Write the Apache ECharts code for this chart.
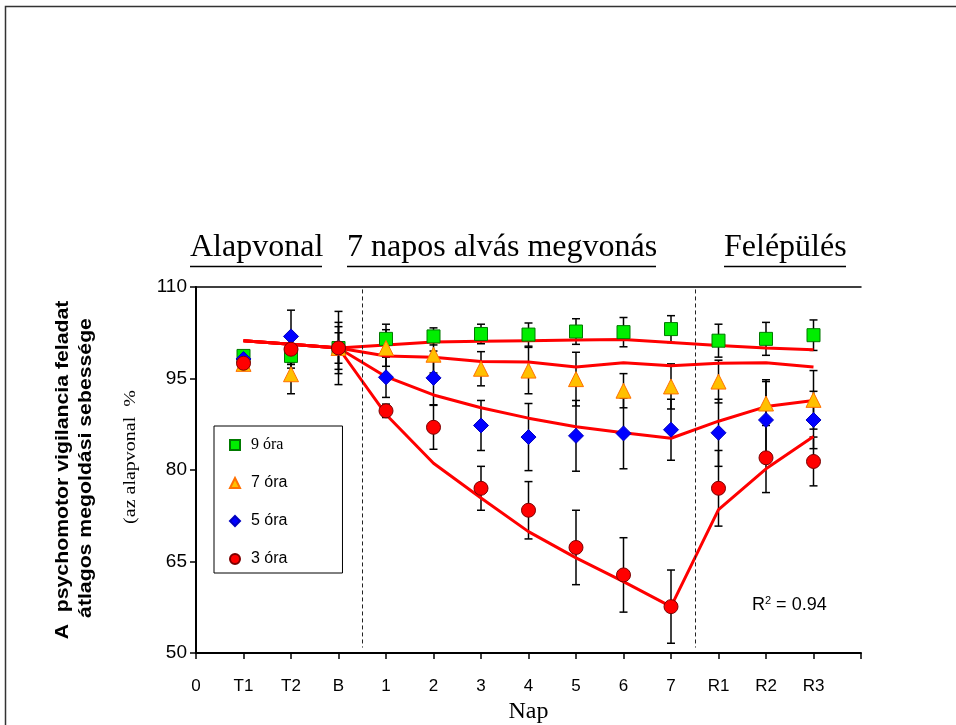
<!DOCTYPE html>
<html>
<head>
<meta charset="utf-8">
<script src="https://cdn.jsdelivr.net/npm/echarts@6/dist/echarts.min.js"></script>
<style>
  html, body { margin: 0; padding: 0; background: #fff; }
  #chart { width: 956px; height: 725px; }
</style>
</head>
<body>
<div id="chart"></div>
<script>
// Axis tick labels (position index = x value)
const tickLabels = ['0', 'T1', 'T2', 'B', '1', '2', '3', '4', '5', '6', '7', 'R1', 'R2', 'R3'];
const days = tickLabels.slice(1);

// Group means (% of baseline)
const hours9 = [98.7, 98.7, 100, 101.5, 101.9, 102.3, 102.2, 102.7, 102.6, 103.1, 101.2, 101.5, 102.1];
const hours7 = [97.4, 95.7, 100, 100.0, 98.9, 96.6, 96.3, 94.9, 93.0, 93.7, 94.5, 90.9, 91.5];
const hours5 = [98.2, 101.9, 100, 95.2, 95.1, 87.3, 85.4, 85.6, 86.0, 86.6, 86.1, 88.2, 88.2];
const hours3 = [97.5, 99.8, 100, 89.7, 87.0, 77.0, 73.4, 67.3, 62.8, 57.6, 77.0, 82.0, 81.4];

// Error bar half-widths
const err9 = [0.8, 2.0, 3.5, 2.4, 1.4, 1.6, 1.9, 2.1, 2.4, 2.2, 2.7, 2.7, 2.5];
const err7 = [0.8, 3.2, 4.2, 3.0, 3.0, 2.8, 3.8, 4.4, 2.8, 3.7, 3.5, 3.6, 4.8];
const err5 = [0.8, 4.3, 6.0, 3.3, 4.4, 4.1, 5.5, 5.8, 5.8, 5.0, 5.5, 6.6, 4.7];
const err3 = [0.8, 2.5, 2.5, 1.1, 3.6, 3.6, 4.7, 6.1, 6.1, 6.0, 6.2, 5.7, 4.0];

// Model fit curves
const fit9 = [101.2, 100.6, 100, 100.5, 101.0, 101.1, 101.2, 101.3, 101.4, 100.9, 100.4, 100.0, 99.7];
const fit7 = [101.2, 100.6, 100, 98.7, 98.5, 97.8, 97.7, 96.9, 97.6, 97.1, 97.5, 97.6, 96.9];
const fit5 = [101.2, 100.6, 100, 95.3, 92.3, 90.2, 88.5, 87.1, 86.1, 85.2, 88.0, 90.4, 91.4];
const fit3 = [101.2, 100.6, 100, 89.1, 81.1, 75.4, 69.9, 65.6, 61.7, 57.6, 73.5, 80.2, 85.5];

// Phase boundaries (between B|1 and 7|R1)
const phaseBreaks = [3.5, 10.5];

const SANS = '"Liberation Sans", Arial, sans-serif';
const SERIF = '"Liberation Serif", "Times New Roman", serif';

// x position of each day = its index among the tick labels
const toXY = vals => vals.map((v, i) => [tickLabels.indexOf(days[i]), v]);

function errorBars(name, vals, errs) {
  return {
    type: 'custom',
    name: name,
    silent: true,
    z: 2,
    encode: { x: 0, y: [1, 2] },
    data: vals.map((v, i) => [tickLabels.indexOf(days[i]), v - errs[i], v + errs[i]]),
    renderItem(params, api) {
      const x = api.value(0);
      const lo = api.coord([x, api.value(1)]);
      const hi = api.coord([x, api.value(2)]);
      const w = 4;
      const style = { stroke: '#000', lineWidth: 1.5 };
      return {
        type: 'group',
        children: [
          { type: 'line', shape: { x1: lo[0], y1: lo[1], x2: hi[0], y2: hi[1] }, style },
          { type: 'line', shape: { x1: lo[0] - w, y1: lo[1], x2: lo[0] + w, y2: lo[1] }, style },
          { type: 'line', shape: { x1: hi[0] - w, y1: hi[1], x2: hi[0] + w, y2: hi[1] }, style }
        ]
      };
    }
  };
}

function fitLine(name, vals, extra) {
  return Object.assign({
    type: 'line',
    name: name,
    data: toXY(vals),
    symbol: 'none',
    silent: true,
    z: 3,
    lineStyle: { color: '#ff0000', width: 3 }
  }, extra || {});
}

function markers(name, vals, symbol, size, fill, border) {
  return {
    type: 'scatter',
    name: name,
    data: toXY(vals),
    symbol: symbol,
    symbolSize: size,
    z: 4,
    itemStyle: { color: fill, borderColor: border, borderWidth: 1, opacity: 1 }
  };
}

const chart = echarts.init(document.getElementById('chart'), null, { renderer: 'canvas' });

const option = {
  backgroundColor: '#ffffff',
  animation: false,
  grid: { left: 196, top: 287, right: 95, bottom: 72, outerBoundsMode: 'none' },
  legend: {
    orient: 'vertical',
    left: 214,
    top: 426,
    padding: [11, 55, 6, 15],
    itemGap: 22,
    itemWidth: 10,
    itemHeight: 10,
    borderColor: '#000',
    borderWidth: 1,
    backgroundColor: '#fff',
    selectedMode: false,
    textStyle: { fontFamily: SANS, fontSize: 16, color: '#000', padding: [0, 0, 0, 6] },
    data: [
      { name: '9 óra', textStyle: { fontFamily: SERIF, fontSize: 16 } },
      { name: '7 óra' },
      { name: '5 óra' },
      { name: '3 óra' }
    ]
  },
  xAxis: [
    {
      type: 'value',
      min: 0,
      max: 14,
      interval: 1,
      position: 'bottom',
      splitLine: { show: false },
      axisLine: { show: true, lineStyle: { color: '#000', width: 2 } },
      axisTick: { show: true, inside: false, length: 6, lineStyle: { color: '#000', width: 1.5 } },
      axisLabel: {
        margin: 25,
        fontFamily: SANS,
        fontSize: 17,
        color: '#000',
        formatter: v => (tickLabels[v] !== undefined ? tickLabels[v] : '')
      },
      name: 'Nap',
      nameLocation: 'middle',
      nameGap: 46,
      nameTextStyle: { fontFamily: SERIF, fontSize: 24, color: '#000' }
    },
    {
      type: 'value',
      min: 0,
      max: 14,
      position: 'top',
      axisLine: { show: true, lineStyle: { color: '#000', width: 1.5 } },
      axisTick: { show: false },
      axisLabel: { show: false },
      splitLine: { show: false }
    }
  ],
  yAxis: {
    type: 'value',
    min: 50,
    max: 110,
    interval: 15,
    splitLine: { show: false },
    axisLine: { show: true, lineStyle: { color: '#000', width: 2 } },
    axisTick: { show: true, length: 6, lineStyle: { color: '#000', width: 1.5 } },
    axisLabel: { margin: 9, fontFamily: SANS, fontSize: 19, color: '#000' }
  },
  series: [
    errorBars('err9', hours9, err9),
    errorBars('err7', hours7, err7),
    errorBars('err5', hours5, err5),
    errorBars('err3', hours3, err3),
    fitLine('fit9', fit9, {
      markLine: {
        silent: true,
        symbol: 'none',
        label: { show: false },
        lineStyle: { color: '#222', width: 1, type: [4, 3] },
        data: phaseBreaks.map(x => [{ coord: [x, 109.6] }, { coord: [x, 50.9] }])
      }
    }),
    fitLine('fit7', fit7),
    fitLine('fit5', fit5),
    fitLine('fit3', fit3),
    markers('9 óra', hours9, 'rect', 13, '#00ee00', '#007a00'),
    markers('7 óra', hours7, 'triangle', 15, '#ffc000', '#ff7000'),
    markers('5 óra', hours5, 'diamond', 15, '#0000ff', '#0000c0'),
    markers('3 óra', hours3, 'circle', 14, '#ff0000', '#7a0000')
  ],
  graphic: [
    // outer frame
    { type: 'rect', silent: true, shape: { x: 5.5, y: 6.5, width: 1000, height: 800 },
      style: { fill: 'none', stroke: '#333', lineWidth: 1.5 } },
    // phase headings
    { type: 'text', left: 190, top: 232, style: { text: 'Alapvonal', font: '32px ' + SERIF, fill: '#000' } },
    { type: 'line', shape: { x1: 190, y1: 266.5, x2: 322, y2: 266.5 }, style: { stroke: '#000', lineWidth: 1.5 } },
    { type: 'text', left: 347, top: 232, style: { text: '7 napos alvás megvonás', font: '32px ' + SERIF, fill: '#000' } },
    { type: 'line', shape: { x1: 347, y1: 266.5, x2: 656, y2: 266.5 }, style: { stroke: '#000', lineWidth: 1.5 } },
    { type: 'text', left: 724, top: 232, style: { text: 'Felépülés', font: '32px ' + SERIF, fill: '#000' } },
    { type: 'line', shape: { x1: 724, y1: 266.5, x2: 846, y2: 266.5 }, style: { stroke: '#000', lineWidth: 1.5 } },
    // y-axis titles
    { type: 'text', x: 63, y: 470, rotation: Math.PI / 2, scaleX: 1.18,
      style: { text: 'A  psychomotor vigilancia feladat', font: 'bold 18px ' + SANS, fill: '#000',
               align: 'center', verticalAlign: 'middle' } },
    { type: 'text', x: 86, y: 468, rotation: Math.PI / 2, scaleX: 1.18,
      style: { text: 'átlagos megoldási sebessége', font: 'bold 18px ' + SANS, fill: '#000',
               align: 'center', verticalAlign: 'middle' } },
    { type: 'text', x: 131, y: 457, rotation: Math.PI / 2, scaleX: 1.25,
      style: { text: '(az alapvonal  %', font: '16px ' + SERIF, fill: '#000',
               align: 'center', verticalAlign: 'middle' } },
    // goodness of fit
    { type: 'text', left: 752, top: 595,
      style: { text: 'R{sup|2} = 0.94', font: '18px ' + SANS, fill: '#000',
               rich: { sup: { fontSize: 11, fontFamily: SANS, verticalAlign: 'top', padding: [0, 0, 9, 0] } } } }
  ]
};

chart.setOption(option);
</script>
</body>
</html>
